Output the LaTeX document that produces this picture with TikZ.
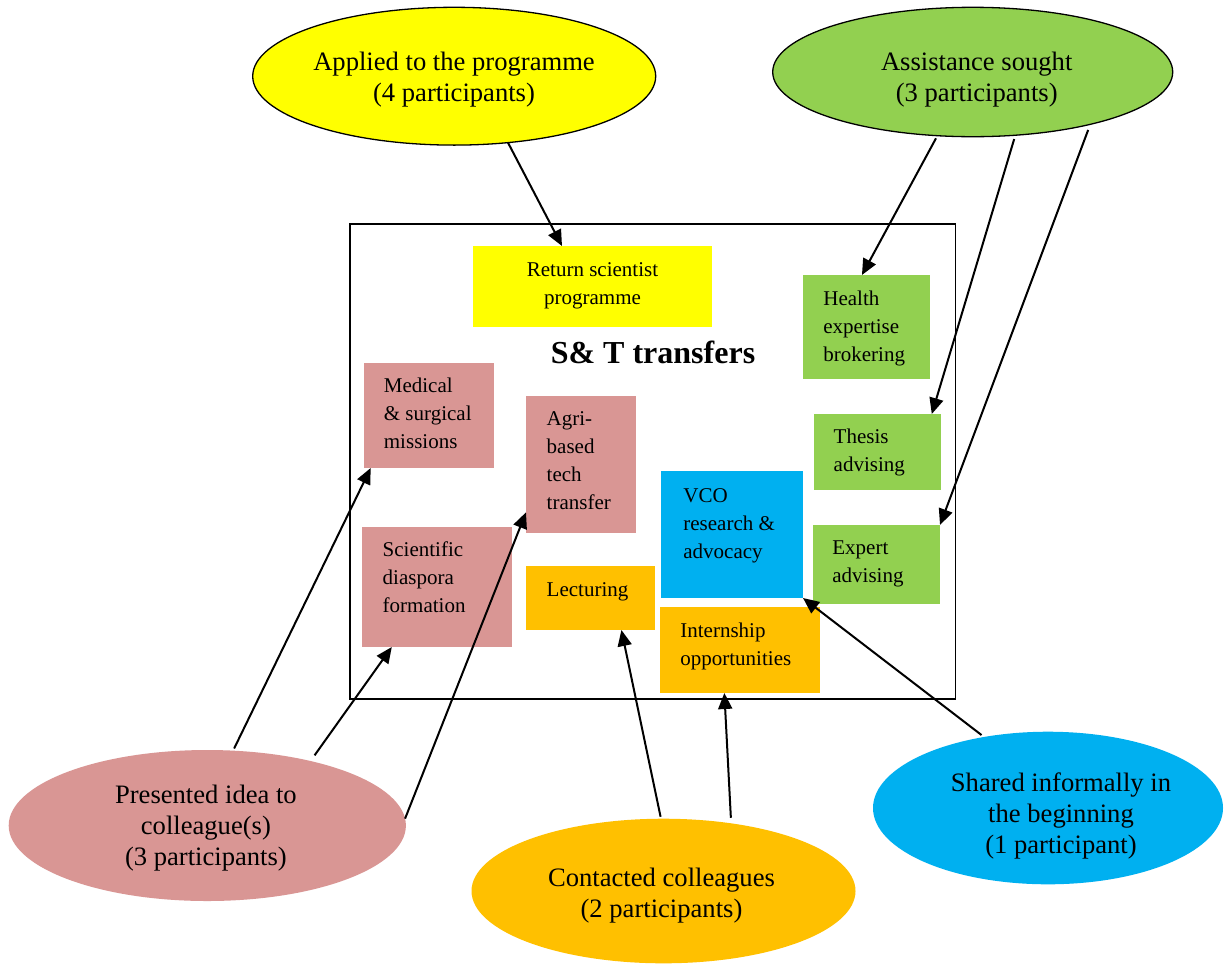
\documentclass[tikz,border=0pt]{standalone}
\usepackage{fontspec}
\setmainfont{Liberation Serif}
\usetikzlibrary{shapes.geometric,arrows.meta}
\definecolor{cyel}{HTML}{FFFF00}
\definecolor{cgrn}{HTML}{92D050}
\definecolor{cpnk}{HTML}{D99694}
\definecolor{corg}{HTML}{FFC000}
\definecolor{cblu}{HTML}{00B0F0}
\begin{document}
\begin{tikzpicture}[x=0.5pt,y=-0.5pt,
  ell/.style={ellipse, inner sep=0pt, outer sep=0pt},
  bigtxt/.style={font=\fontsize{13.3pt}{15.5pt}\selectfont, align=center, inner sep=0pt, anchor=base},
  smalltxt/.style={font=\fontsize{10.5pt}{14.1pt}\selectfont, align=left, inner sep=0pt, anchor=base west},
  sbox/.style={rectangle, inner sep=0pt, outer sep=0pt},
  conn/.style={line width=1pt, -{Triangle[length=8pt,width=7pt]}},
]
\fill[white] (0,0) rectangle (1224,964);
\useasboundingbox (0,0) rectangle (1224,964);

% frame
\node[sbox, draw, line width=0.7pt, minimum width=302.75pt, minimum height=237.5pt, anchor=north west] (frame) at (350,224) {};

% boxes
\node[sbox, fill=cyel, minimum width=119.5pt, minimum height=40.5pt] (ret) at (592.5,286.5) {};
\node[sbox, fill=cgrn, minimum width=63.5pt, minimum height=52pt] (health) at (866.5,327) {};
\node[sbox, fill=cgrn, minimum width=63.5pt, minimum height=38pt] (thesis) at (877.5,452) {};
\node[sbox, fill=cgrn, minimum width=63.5pt, minimum height=39.5pt] (expert) at (876.5,564.5) {};
\node[sbox, fill=cpnk, minimum width=65pt, minimum height=52.5pt] (medical) at (429,415.5) {};
\node[sbox, fill=cpnk, minimum width=55pt, minimum height=68.5pt] (agri) at (581,464.5) {};
\node[sbox, fill=cpnk, minimum width=75pt, minimum height=60pt] (sci) at (437,587) {};
\node[sbox, fill=corg, minimum width=64.5pt, minimum height=32pt] (lect) at (590.5,598) {};
\node[sbox, fill=cblu, minimum width=71pt, minimum height=63.5pt] (vco) at (732,534.5) {};
\node[sbox, fill=corg, minimum width=80pt, minimum height=43pt] (intern) at (740,650) {};

% box texts (anchored at the baseline of their last line)
\node[smalltxt, anchor=base, align=center] (retT) at (592.5,304.2) {Return scientist\\programme};
\node[smalltxt] (healthT) at (823,361.4) {Health\\expertise\\brokering};
\node[smalltxt] (thesisT) at (833.3,471.2) {Thesis\\advising};
\node[smalltxt] (expertT) at (832,582.2) {Expert\\advising};
\node[smalltxt] (medicalT) at (383.5,448.4) {Medical\\\& surgical\\missions};
\node[smalltxt] (agriT) at (546.3,509.6) {Agri-\\based\\tech\\transfer};
\node[smalltxt] (sciT) at (382.3,612.4) {Scientific\\diaspora\\formation};
\node[smalltxt] (lectT) at (546.3,596) {Lecturing};
\node[smalltxt] (vcoT) at (683,558.4) {VCO\\research \&\\advocacy};
\node[smalltxt] (internT) at (680,665.2) {Internship\\opportunities};
\node[font=\fontsize{16pt}{19pt}\selectfont\bfseries, inner sep=0pt, anchor=base] (title) at (653,363) {S\& T transfers};

% ellipses
\node[ell, fill=cyel, draw, line width=0.65pt, minimum width=201.5pt, minimum height=68.9pt] (yel) at (454.2,76.2) {};
\node[ell, fill=cgrn, draw, line width=0.65pt, minimum width=200pt, minimum height=64.7pt] (grn) at (972.7,72) {};
\node[ell, fill=cpnk, minimum width=198.6pt, minimum height=75.5pt] (pnk) at (207.3,825.5) {};
\node[ell, fill=corg, minimum width=192pt, minimum height=72.3pt] (org) at (663.5,891) {};
\node[ell, fill=cblu, minimum width=175pt, minimum height=76.3pt] (blu) at (1048,808) {};

\node[bigtxt] (yelT) at (454,101) {Applied to the programme\\(4 participants)};
\node[bigtxt] (grnT) at (976.7,101) {Assistance sought\\(3 participants)};
\node[bigtxt] (pnkT) at (205.9,865.5) {Presented idea to\\colleague(s)\\(3 participants)};
\node[bigtxt] (orgT) at (661.5,917) {Contacted colleagues\\(2 participants)};
\node[bigtxt] (bluT) at (1061,853) {Shared informally in\\the beginning\\(1 participant)};

% connectors
\draw[conn] (yel.-51.1) -- (ret.127.25);
\draw[conn, shorten <=1.5pt] (grn.-119.6) -- (health.95.3);
\draw[conn, shorten <=2pt] (grn.-56.5) -- (thesis.35);
\draw[conn, shorten <=3pt] (grn.-24.8) -- (expert.north east);
\draw[conn, shorten <=1.2pt] (pnk.71.2) -- (medical.-138.2);
\draw[conn, shorten <=3.5pt] (pnk.32.7) -- (sci.-127.95);
\draw[conn] (pnk.2.5) -- (agri.-139.5);
\draw[conn, shorten <=1pt] (org.92.1) -- (lect.-46.8);
\draw[conn, shorten <=2.8pt] (org.45.2) -- (intern.-110.6);
\draw[conn, shorten <=1.6pt] (blu.132) -- (vco.south east);
\end{tikzpicture}
\end{document}
